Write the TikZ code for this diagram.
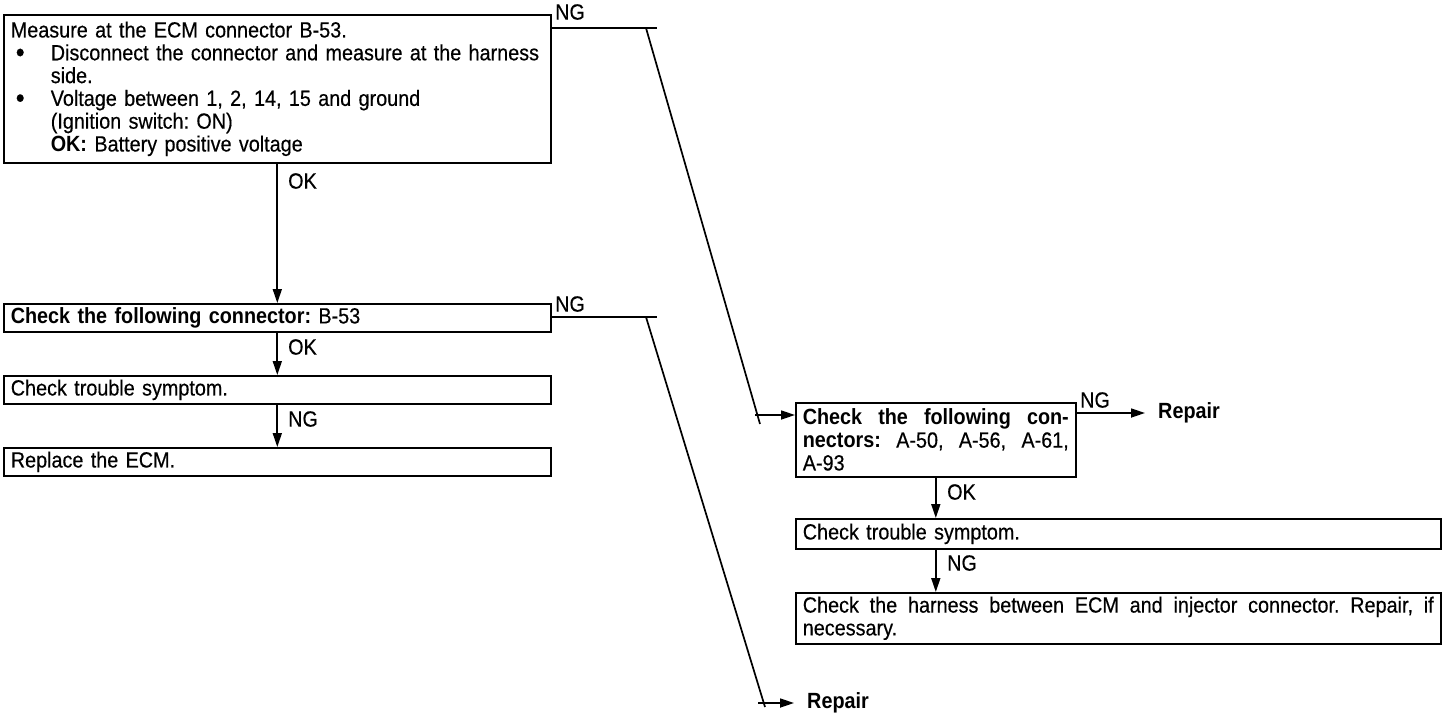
\documentclass[tikz,border=0pt]{standalone}
\usepackage{fontspec}
\setmainfont{Liberation Sans}[FakeStretch=0.9, UprightFeatures={FakeBold=0.4}]
\usetikzlibrary{arrows.meta}
\frenchspacing
\begin{document}
\begin{tikzpicture}[x=1pt,y=-1pt,
  box/.style={draw, line width=1.6pt, anchor=north west, inner xsep=7pt, inner ysep=0pt, align=left, font=\fontsize{22}{22.8}\selectfont},
  lbl/.style={font=\fontsize{22}{22}\selectfont, inner sep=0pt, anchor=west},
  con/.style={line width=1.7pt},
  arr/.style={line width=1.7pt, -{Triangle[length=14pt,width=9pt]}},
]
\useasboundingbox (0,0) rectangle (1449,718);
\newcommand{\bul}{\makebox[40pt][l]{\hspace*{5pt}\raisebox{-1.5pt}[0pt][0pt]{\fontsize{28}{22}\selectfont\textbullet}}}

% left column
\node[box, text width=533pt, minimum height=148pt] (b1) at (3,14) {%
Measure at the ECM connector B-53.\\
\mbox{\bul Disconnect the connector and measure at the harness}\\
\hspace*{40pt}side.\\
\bul Voltage between 1, 2, 14, 15 and ground\\
\hspace*{40pt}(Ignition switch: ON)\\
\hspace*{40pt}\textbf{OK:} Battery positive voltage};
\node[box, text width=533pt, minimum height=28pt] (b2) at (3,303) {\textbf{Check the following connector:} B-53};
\node[box, text width=533pt, minimum height=28pt] (b3) at (3,375) {Check trouble symptom.};
\node[box, text width=533pt, minimum height=28pt] (b4) at (3,447) {Replace the ECM.};

\draw[arr] (b1.south) -- (b2.north);
\draw[arr] (b2.south) -- (b3.north);
\draw[arr] (b3.south) -- (b4.north);
\node[lbl] (ok1) at (288,181) {OK};
\node[lbl] (ok2) at (288,347) {OK};
\node[lbl] (ng3) at (288,419) {NG};

% right column
\node[box, text width=266pt, minimum height=74pt, align=justify] (bA) at (795,402) {%
\textbf{Check the following con-}\linebreak\textbf{nectors:} A-50, A-56, A-61,\linebreak A-93};
\node[box, text width=631pt, minimum height=30pt] (bB) at (795,518) {Check trouble symptom.};
\node[box, text width=631pt, minimum height=51pt, align=justify] (bC) at (795,592) {%
Check the harness between ECM and injector connector. Repair, if\linebreak necessary.};

\draw[arr] (bA.south) -- (bA.south |- bB.north);
\draw[arr] (bA.south |- bB.south) -- (bA.south |- bC.north);
\node[lbl] (okA) at (947,492) {OK};
\node[lbl] (ngB) at (947,563) {NG};

% NG branches
\node[lbl] (ng1) at (555,12) {NG};
\coordinate (n1e) at (657,28);
\coordinate (d1t) at (646,28);
\coordinate (d1b) at (760,424);
\coordinate (a1s) at (755,415);
\draw[con] (b1.east |- n1e) -- (n1e);
\draw[con] (d1t) -- (d1b);
\draw[arr] (a1s) -- (bA.west |- a1s);

\node[lbl] (ng2) at (555,304) {NG};
\coordinate (n2e) at (657,317);
\coordinate (d2t) at (646,317);
\coordinate (d2b) at (765,707);
\coordinate (a2s) at (758,703);
\node[lbl] (rep2) at (807,703) {\textbf{Repair}};
\draw[con] (b2.east |- n2e) -- (n2e);
\draw[con] (d2t) -- (d2b);
\draw[arr] (a2s) -- ([xshift=-13pt]rep2.west);

\node[lbl] (ngA) at (1080,400) {NG};
\coordinate (aAs) at (1075,413);
\node[lbl] (repA) at (1158,413) {\textbf{Repair}};
\draw[arr] (bA.east |- aAs) -- ([xshift=-13pt]repA.west);
\end{tikzpicture}
\end{document}
